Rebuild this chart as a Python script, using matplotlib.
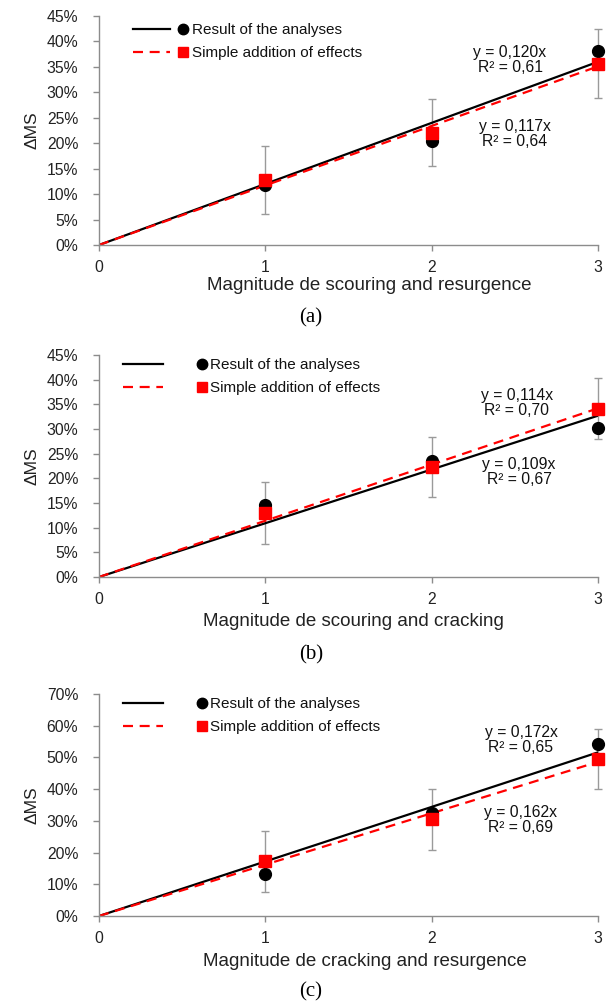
import numpy as np
import matplotlib
matplotlib.use('Agg')
import matplotlib.pyplot as plt
from matplotlib.lines import Line2D
from matplotlib.ticker import PercentFormatter, MultipleLocator

plt.rcParams['font.family'] = ['Liberation Sans', 'DejaVu Sans']

# magnitudes on the x axis
x_mag = [1, 2, 3]

# (a) scouring and resurgence, values in %
a_result = [11.8, 20.5, 38.2]
a_sum = [12.8, 22.1, 35.6]
a_err = [6.7, 6.65, 6.75]
a_slope = [0.120, 0.117]
a_r2 = [0.61, 0.64]

# (b) scouring and cracking
b_result = [14.5, 23.5, 30.2]
b_sum = [13.0, 22.3, 34.1]
b_err = [6.25, 6.1, 6.15]
b_slope = [0.109, 0.114]
b_r2 = [0.67, 0.70]

# (c) cracking and resurgence
c_result = [13.2, 32.4, 54.3]
c_sum = [17.2, 30.5, 49.6]
c_err = [9.55, 9.65, 9.45]
c_slope = [0.172, 0.162]
c_r2 = [0.65, 0.69]

xlabels = ['Magnitude de scouring and resurgence',
           'Magnitude de scouring and cracking',
           'Magnitude de cracking and resurgence']
captions = ['(a)', '(b)', '(c)']
legend_labels = ['Result of the analyses', 'Simple addition of effects']

W, H = 608, 1006
fig = plt.figure(figsize=(W / 100, H / 100), dpi=100)

grey = '#8c8c8c'

panels = [
    dict(res=a_result, sm=a_sum, err=a_err, slope=a_slope, r2=a_r2,
         top=16, bot=245, ymax=45, ystep=5,
         ann=[(2.471, 36.3), (2.501, 21.8)],
         leg_line=(133, 2.42), leg_mark=(175.4, 0.1), leg_drop=7,
         xlab=(369, 277), cap=(311, 318)),
    dict(res=b_result, sm=b_sum, err=b_err, slope=b_slope, r2=b_r2,
         top=355, bot=577, ymax=45, ystep=5,
         ann=[(2.525, 21.3), (2.513, 35.3)],
         leg_line=(123, 2.62), leg_mark=(194.4, 0.05), leg_drop=3,
         xlab=(353, 613), cap=(311, 655)),
    dict(res=c_result, sm=c_sum, err=c_err, slope=c_slope, r2=c_r2,
         top=694, bot=916, ymax=70, ystep=10,
         ann=[(2.537, 55.5), (2.537, 30.3)],
         leg_line=(123, 2.62), leg_mark=(194.4, 0.05), leg_drop=3,
         xlab=(365, 953), cap=(311, 992)),
]

left_px, right_px = 99, 598
fs = 11

for i, p in enumerate(panels):
    ax = fig.add_axes([left_px / W, 1 - p['bot'] / H,
                       (right_px - left_px) / W, (p['bot'] - p['top']) / H])
    xs = np.array([0, 3])
    # trend lines through the origin
    ax.plot(xs, p['slope'][0] * 100 * xs, color='black', lw=1.6, zorder=2)
    ax.plot(xs, p['slope'][1] * 100 * xs, color='#ff0000', lw=1.6,
            dashes=(4.5, 3), zorder=2.1)
    ax.errorbar(x_mag, p['sm'], yerr=p['err'], fmt='none', ecolor='#9a9a9a',
                elinewidth=1, capsize=3, capthick=1, zorder=1, clip_on=False)
    ax.plot(x_mag, p['res'], 'o', color='black', ms=8.5, zorder=3, clip_on=False)
    ax.plot(x_mag, p['sm'], 's', color='#ff0000', ms=8.5, zorder=4, clip_on=False)

    for (tx, ty), s, r in zip(p['ann'], p['slope'], p['r2']):
        txt = 'y = {:.3f}x\nR² = {:.2f}'.format(s, r).replace('.', ',')
        ax.text(tx, ty, txt, ha='center', va='center', fontsize=11.3,
                linespacing=1.0, color='#111111')

    ax.set_xlim(0, 3)
    ax.set_ylim(0, p['ymax'])
    ax.xaxis.set_major_locator(MultipleLocator(1))
    ax.yaxis.set_major_locator(MultipleLocator(p['ystep']))
    ax.yaxis.set_major_formatter(PercentFormatter(xmax=100, decimals=0))
    for side in ['top', 'right']:
        ax.spines[side].set_visible(False)
    for side in ['left', 'bottom']:
        ax.spines[side].set_color(grey)
        ax.spines[side].set_linewidth(1)
    ax.tick_params(axis='y', colors=grey, labelcolor='#222222', labelsize=11.3,
                   length=4, width=1, pad=11)
    ax.tick_params(axis='x', colors=grey, labelcolor='#222222', labelsize=11.3,
                   length=4, width=1, pad=7)

    ax.set_ylabel('ΔMS', fontsize=12.5, color='#222222')
    ax.yaxis.set_label_coords(-0.12, 0.5)
    ax.set_xlabel(xlabels[i], fontsize=13.5, color='#222222', va='top')
    lx, ly = p['xlab']
    ax.xaxis.set_label_coords((lx - left_px) / (right_px - left_px),
                              (p['bot'] - ly) / (p['bot'] - p['top']))

    # legend: sample lines on one side, markers with labels on the other
    h = p['bot'] - p['top']
    ytop = 1 - p['leg_drop'] / h
    line_handles = [Line2D([], [], color='black', lw=1.6),
                    Line2D([], [], color='#ff0000', lw=1.6, dashes=(4.5, 3))]
    mark_handles = [Line2D([], [], ls='none', marker='o', color='black', ms=7.5),
                    Line2D([], [], ls='none', marker='s', color='#ff0000', ms=7.5)]
    lx0, hl = p['leg_line']
    leg1 = ax.legend(line_handles, ['', ''], loc='upper left',
                     bbox_to_anchor=((lx0 - left_px) / (right_px - left_px), ytop),
                     frameon=False, borderpad=0, borderaxespad=0,
                     handlelength=hl, handletextpad=0, labelspacing=0.62,
                     fontsize=fs)
    ax.add_artist(leg1)
    mx0, tp = p['leg_mark']
    ax.legend(mark_handles, legend_labels, loc='upper left',
              bbox_to_anchor=((mx0 - left_px) / (right_px - left_px), ytop),
              frameon=False, borderpad=0, borderaxespad=0,
              handlelength=1.0, handletextpad=tp, labelspacing=0.62,
              fontsize=fs, labelcolor='#111111')

    cx, cy = p['cap']
    fig.text(cx / W, 1 - cy / H, captions[i], ha='center', va='center',
             fontsize=15, family=['Liberation Serif', 'DejaVu Serif'])

fig.savefig('out.png', dpi=100)
